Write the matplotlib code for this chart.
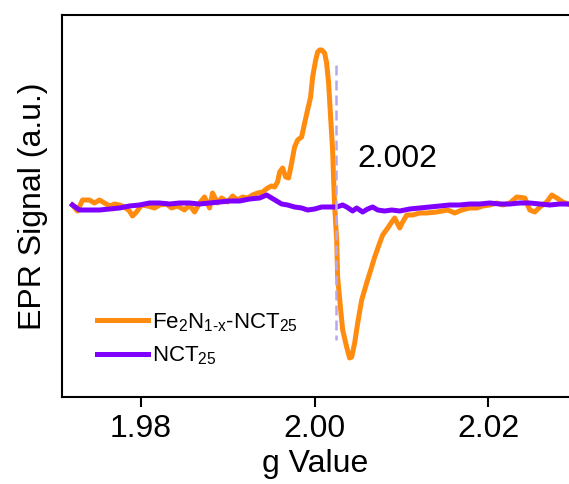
import numpy as np
import matplotlib.pyplot as plt

plt.rcParams['font.family'] = ['Liberation Sans', 'DejaVu Sans']

# EPR spectra (arbitrary units)
g_fe = [1.97210, 1.97268, 1.97326, 1.97406, 1.97464, 1.97522, 1.97579, 1.97637,
        1.97695, 1.97752, 1.97810, 1.97867, 1.97902, 1.97948, 1.98006, 1.98075,
        1.98156, 1.98213, 1.98294, 1.98352, 1.98421, 1.98501, 1.98559, 1.98617,
        1.98674, 1.98732, 1.98790, 1.98824, 1.98882, 1.98928, 1.98997, 1.99055,
        1.99112, 1.99170, 1.99228, 1.99285, 1.99343, 1.99401, 1.99458, 1.99504,
        1.99539, 1.99573, 1.99597, 1.99631, 1.99666, 1.99700, 1.99735, 1.99769,
        1.99804, 1.99850, 1.99885, 1.99919, 1.99954, 1.99977, 2.00012, 2.00035,
        2.00058, 2.00081, 2.00115, 2.00138, 2.00161, 2.00184, 2.00207, 2.00219,
        2.00231, 2.00254, 2.00265, 2.00300, 2.00323, 2.00369, 2.00403, 2.00427,
        2.00461, 2.00496, 2.00542, 2.00599, 2.00657, 2.00692, 2.00749, 2.00784,
        2.00842, 2.00888, 2.00922, 2.00980, 2.01014, 2.01061, 2.01130, 2.01210,
        2.01291, 2.01406, 2.01533, 2.01614, 2.01695, 2.01787, 2.01867, 2.01937,
        2.02017, 2.02098, 2.02167, 2.02248, 2.02329, 2.02421, 2.02478, 2.02536,
        2.02594, 2.02674, 2.02732, 2.02790, 2.02859, 2.02916]
sig_fe = [2, -4, 7, 7, 4, 7, 4, 1,
          3, 2, 0, -4, -9, -5, 2, 1,
          -1, 2, 3, -1, 1, -3, 2, -5,
          4, 10, -1, 14, 4, 9, 5, 11,
          7, 10, 9, 12, 14, 15, 19, 21,
          20, 25, 35, 39, 30, 29, 44, 60,
          67, 70, 84, 97, 110, 130, 147, 155,
          157, 157, 154, 144, 124, 90, 57, 27,
          0, -33, -70, -103, -123, -140, -151, -150,
          -136, -116, -93, -76, -60, -50, -36, -28,
          -21, -15, -11, -21, -15, -8, -8, -6,
          -6, -5, -3, -6, -3, -1, -1, 1,
          2, 4, 2, 4, 10, 9, -3, -5,
          0, 5, 12, 9, 5, 3]

g_nct = [1.97210, 1.97291, 1.97406, 1.97522, 1.97637, 1.97752, 1.97867, 1.97983,
         1.98098, 1.98213, 1.98329, 1.98444, 1.98559, 1.98674, 1.98790, 1.98905,
         1.99020, 1.99135, 1.99251, 1.99366, 1.99447, 1.99504, 1.99562, 1.99620,
         1.99689, 1.99769, 1.99850, 1.99919, 2.00000, 2.00081, 2.00173, 2.00254,
         2.00323, 2.00369, 2.00438, 2.00484, 2.00553, 2.00611, 2.00669, 2.00726,
         2.00807, 2.00888, 2.00980, 2.01095, 2.01210, 2.01326, 2.01441, 2.01556,
         2.01671, 2.01787, 2.01902, 2.02017, 2.02133, 2.02248, 2.02363, 2.02478,
         2.02594, 2.02709, 2.02824, 2.02916]
sig_nct = [2, -3, -3, -3, -2, -1, 1, 2,
           4, 4, 3, 4, 4, 3, 4, 5,
           6, 6, 8, 9, 12, 9, 6, 3,
           2, 0, -1, -3, -2, 0, 0, 0,
           2, 0, -4, -1, -5, -2, 0, -3,
           -4, -3, -4, -2, -1, 0, 1, 2,
           2, 3, 3, 4, 3, 3, 4, 4,
           3, 2, 3, 3]

g_center = 2.0025
labels = ['Fe$_\\mathregular{2}$N$_\\mathregular{1\u2010x}$-NCT$_\\mathregular{25}$',
          'NCT$_\\mathregular{25}$']
colors = ['#ff8c0f', '#7f00ff']

fig = plt.figure(figsize=(5.69, 4.84), dpi=100)
ax = fig.add_axes([62/569, 87/484, (569-62)/569, 382.5/484])

ax.plot(g_fe, sig_fe, color=colors[0], lw=3.6, label=labels[0], zorder=2,
        solid_joinstyle='round')
ax.plot(g_nct, sig_nct, color=colors[1], lw=3.6, label=labels[1], zorder=3,
        solid_joinstyle='round')
ax.plot([g_center, g_center], [142, -133], color='#b8a8ea', lw=1.8,
        ls=(0, (4, 2)), zorder=4)
ax.text(g_center + 0.0024, 48, f'{g_center:.3f}', fontsize=23,
        ha='left', va='center')

ax.set_xlim(1.9709, 2.0293)
ax.set_ylim(-190, 192.5)
ax.set_xticks([1.98, 2.00, 2.02])
ax.set_xticklabels(['1.98', '2.00', '2.02'])
ax.set_yticks([])
ax.tick_params(axis='x', direction='out', length=7, width=1.5,
               labelsize=23, pad=5)
for side in ['left', 'bottom', 'top']:
    ax.spines[side].set_linewidth(1.5)
ax.spines['right'].set_visible(False)

ax.set_xlabel('g Value', fontsize=23, labelpad=4)
ax.set_ylabel('EPR Signal (a.u.)', fontsize=23, labelpad=10)

ax.legend(loc='lower left', bbox_to_anchor=(0.03, 0.025), frameon=False,
          fontsize=16, handlelength=2.3, handletextpad=0.15,
          labelspacing=0.5)

fig.savefig('out.png', dpi=100)
